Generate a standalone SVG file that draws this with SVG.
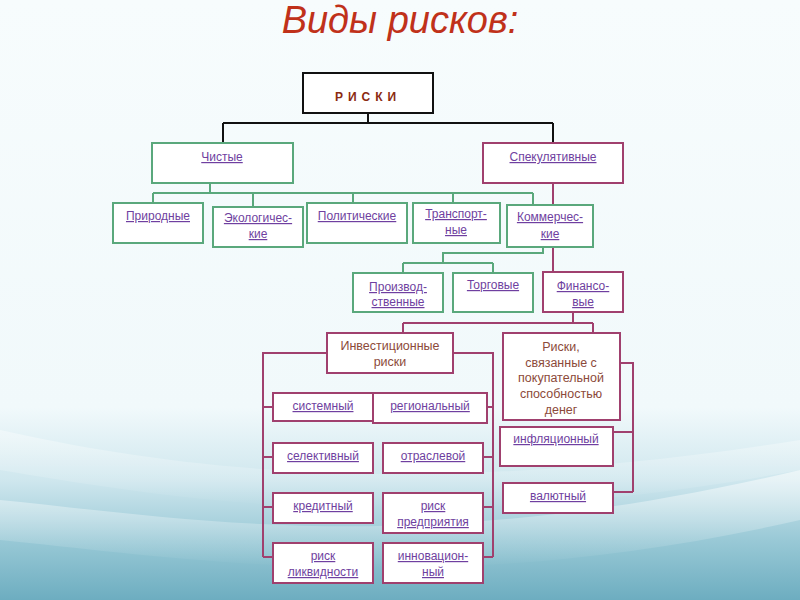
<svg xmlns="http://www.w3.org/2000/svg" width="800" height="600" viewBox="0 0 800 600">
<defs>
<linearGradient id="bg" x1="0" y1="0" x2="0" y2="1">
<stop offset="0" stop-color="#f7fcfd"/>
<stop offset="0.68" stop-color="#f1f9fb"/>
<stop offset="0.8" stop-color="#cfe7ee"/>
<stop offset="0.9" stop-color="#99c9d6"/>
<stop offset="1" stop-color="#6dadc0"/>
</linearGradient>
<linearGradient id="wave2" x1="0" y1="0" x2="0" y2="1">
<stop offset="0" stop-color="#ffffff" stop-opacity="0.55"/>
<stop offset="1" stop-color="#ffffff" stop-opacity="0"/>
</linearGradient>
</defs>
<style>
.g{fill:#ffffff;stroke:#5aa87c;stroke-width:2}
.m{fill:#ffffff;stroke:#a0406e;stroke-width:2}
.k{fill:#ffffff;stroke:#111111;stroke-width:2}
.cg{fill:none;stroke:#5aa87c;stroke-width:2}
.cm{fill:none;stroke:#a0406e;stroke-width:2}
.ck{fill:none;stroke:#111111;stroke-width:2}
.l{font-family:"Liberation Sans",Arial,sans-serif;font-size:12px;fill:#6f3fa0;text-anchor:middle;text-decoration:underline}
.b{font-family:"Liberation Sans",Arial,sans-serif;font-size:12.5px;fill:#8c4a3a;text-anchor:middle}
</style>
<rect x="0" y="0" width="800" height="600" fill="url(#bg)"/>
<path d="M0,500 C200,520 420,560 800,470 L800,520 C450,600 200,560 0,540 Z" fill="url(#wave2)"/>
<path d="M0,430 C180,470 420,500 800,440 L800,470 C420,540 180,500 0,470 Z" fill="url(#wave2)" opacity="0.7"/>
<text x="400" y="33" font-family="'Liberation Sans',Arial,sans-serif" font-size="38" font-style="italic" fill="#c0311a" text-anchor="middle">Виды рисков:</text>

<g id="connectors">
<path class="ck" d="M368,113 V123 M223,123 H553 M223,123 V143 M553,123 V143"/>
<path class="cg" d="M210,183 V193 M153,193 H533 M153,193 V203 M253,193 V207 M353,193 V203 M453,193 V203 M533,193 V205"/>
<path class="cm" d="M553,183 V272"/>
<path class="cg" d="M543,247 V253 H443 V263 M403,263 H493 M403,263 V273 M493,263 V273"/>
<path class="cm" d="M573,312 V323 M403,323 H593 M403,323 V333 M593,323 V333"/>
<path class="cm" d="M327,353 H263 V557 M263,407 H273 M263,457 H273 M263,507 H273 M263,557 H273"/>
<path class="cm" d="M453,353 H493 V557 M487,407 H493 M483,457 H493 M483,507 H493 M483,557 H493"/>
<path class="cm" d="M620,363 H633 V492 M613,432 H633 M613,492 H633"/>
</g>

<g id="n-riski"><rect class="k" x="303" y="73" width="130" height="40"/><text x="368" y="101" font-family="'Liberation Sans',Arial,sans-serif" font-size="12" font-weight="bold" letter-spacing="5" fill="#8b2a10" text-anchor="middle">РИСКИ</text></g>

<g id="n-chistye"><rect class="g" x="152" y="143" width="141" height="40"/><text class="l" x="222" y="161" font-size="13">Чистые</text></g>
<g id="n-spekul"><rect class="m" x="483" y="143" width="140" height="40"/><text class="l" x="553" y="161" font-size="13">Спекулятивные</text></g>

<g id="n-prirod"><rect class="g" x="113" y="203" width="90" height="40"/><text class="l" x="158" y="220">Природные</text></g>
<g id="n-ekolog"><rect class="g" x="213" y="207" width="90" height="40"/><text class="l" x="258" y="222">Экологичес-</text><text class="l" x="258" y="238">кие</text></g>
<g id="n-polit"><rect class="g" x="307" y="203" width="100" height="40"/><text class="l" x="357" y="220">Политические</text></g>
<g id="n-transp"><rect class="g" x="413" y="203" width="87" height="40"/><text class="l" x="456" y="218">Транспорт-</text><text class="l" x="456" y="234">ные</text></g>
<g id="n-kommer"><rect class="g" x="507" y="205" width="86" height="42"/><text class="l" x="550" y="221">Коммерчес-</text><text class="l" x="550" y="238">кие</text></g>

<g id="n-proizv"><rect class="g" x="353" y="273" width="90" height="39"/><text class="l" x="398" y="291">Производ-</text><text class="l" x="398" y="306">ственные</text></g>
<g id="n-torg"><rect class="g" x="453" y="273" width="80" height="39"/><text class="l" x="493" y="289">Торговые</text></g>
<g id="n-finans"><rect class="m" x="543" y="272" width="80" height="40"/><text class="l" x="583" y="290">Финансо-</text><text class="l" x="583" y="306">вые</text></g>

<g id="n-invest"><rect class="m" x="327" y="333" width="126" height="40"/><text class="b" x="390" y="350">Инвестиционные</text><text class="b" x="390" y="366">риски</text></g>
<g id="n-pokup"><rect class="m" x="503" y="333" width="117" height="87"/><text class="b" x="561" y="351">Риски,</text><text class="b" x="561" y="367">связанные с</text><text class="b" x="561" y="382">покупательной</text><text class="b" x="561" y="398">способностью</text><text class="b" x="561" y="414">денег</text></g>

<g id="n-sistem"><rect class="m" x="273" y="393" width="100" height="28"/><text class="l" x="323" y="410">системный</text></g>
<g id="n-region"><rect class="m" x="373" y="393" width="114" height="30"/><text class="l" x="430" y="410">региональный</text></g>
<g id="n-selekt"><rect class="m" x="273" y="443" width="100" height="30"/><text class="l" x="323" y="460">селективный</text></g>
<g id="n-otrasl"><rect class="m" x="383" y="443" width="100" height="30"/><text class="l" x="433" y="460">отраслевой</text></g>
<g id="n-kredit"><rect class="m" x="273" y="493" width="100" height="30"/><text class="l" x="323" y="510">кредитный</text></g>
<g id="n-predpr"><rect class="m" x="383" y="493" width="100" height="40"/><text class="l" x="433" y="510">риск</text><text class="l" x="433" y="526">предприятия</text></g>
<g id="n-likvid"><rect class="m" x="273" y="543" width="100" height="40"/><text class="l" x="323" y="560">риск</text><text class="l" x="323" y="576">ликвидности</text></g>
<g id="n-innov"><rect class="m" x="383" y="543" width="100" height="40"/><text class="l" x="433" y="560">инновацион-</text><text class="l" x="433" y="576">ный</text></g>

<g id="n-inflac"><rect class="m" x="500" y="427" width="113" height="39"/><text class="l" x="556" y="443">инфляционный</text></g>
<g id="n-valut"><rect class="m" x="503" y="483" width="110" height="30"/><text class="l" x="558" y="500">валютный</text></g>
</svg>
